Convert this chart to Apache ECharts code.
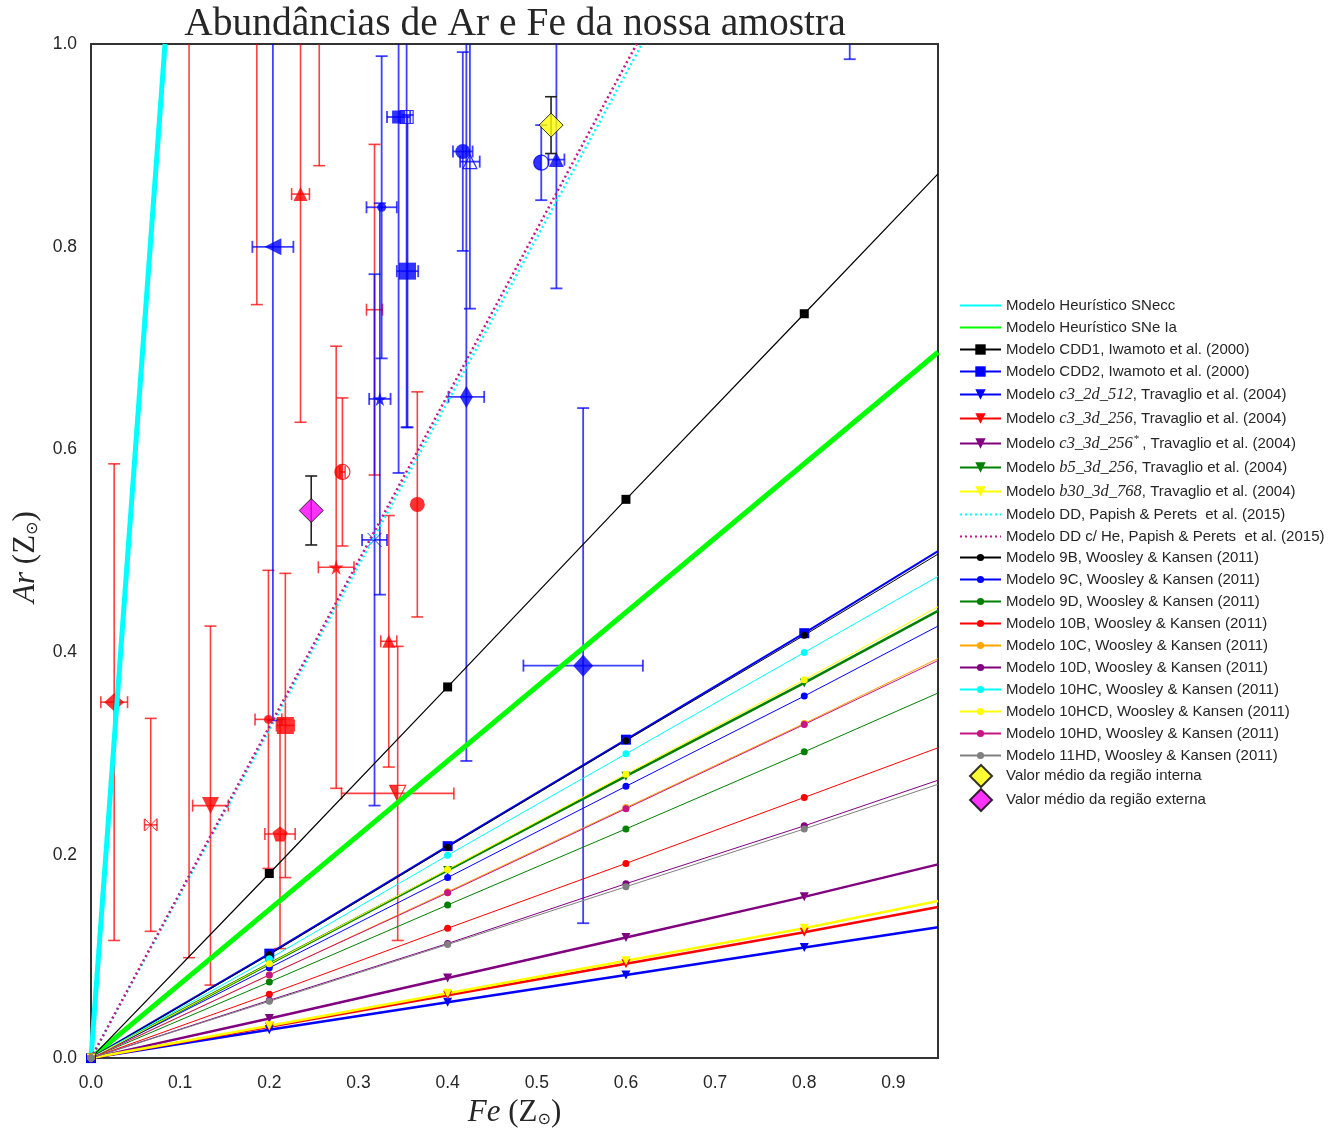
<!DOCTYPE html>
<html><head><meta charset="utf-8">
<script src="https://cdn.jsdelivr.net/npm/echarts@6/dist/echarts.min.js"></script>
<style>html,body{margin:0;padding:0;background:#fff;overflow:hidden}#c{width:1339px;height:1133px}</style>
</head><body><div id="c"></div>
<script>
// ---------------- DATA ----------------
const feGrid = [0, 0.2, 0.4, 0.6, 0.8, 0.95];       // last value = right edge of plot
const cdd1   = [0, 0.182, 0.366, 0.551, 0.734, 0.872];
const cdd2   = [0, 0.103, 0.209, 0.314, 0.419, 0.500];
const c3_2d  = [0, 0.028, 0.055, 0.082, 0.109, 0.129];
const c3_3d  = [0, 0.031, 0.062, 0.093, 0.124, 0.149];
const c3_3ds = [0, 0.039, 0.079, 0.119, 0.159, 0.191];
const b5_3d  = [0, 0.093, 0.185, 0.278, 0.370, 0.441];
const b30_3d = [0, 0.032, 0.064, 0.096, 0.128, 0.155];
const w9B    = [0, 0.102, 0.208, 0.313, 0.417, 0.497];
const w9C    = [0, 0.089, 0.178, 0.268, 0.357, 0.426];
const w9D    = [0, 0.075, 0.151, 0.226, 0.302, 0.360];
const w10B   = [0, 0.063, 0.128, 0.192, 0.257, 0.306];
const w10C   = [0, 0.082, 0.164, 0.247, 0.330, 0.394];
const w10D   = [0, 0.057, 0.113, 0.172, 0.229, 0.274];
const w10HC  = [0, 0.098, 0.200, 0.300, 0.400, 0.475];
const w10HCD = [0, 0.093, 0.186, 0.280, 0.373, 0.445];
const w10HD  = [0, 0.082, 0.163, 0.246, 0.329, 0.392];
const w11HD  = [0, 0.056, 0.112, 0.169, 0.226, 0.270];
// heuristic / DD straight lines: [Fe, Ar]
const snecc  = [[0, 0], [0.083, 1.0]];
const sneIa  = [[0, 0], [0.95, 0.696]];
const ddLine = [[0, 0], [0.618, 1.0]];
const ddHe   = [[0, 0], [0.612, 1.0]];
// sample points (red / blue) : Fe, Ar, Fe error, Ar error
const redFe    = [0.026, 0.067, 0.110, 0.134, 0.186, 0.199, 0.218, 0.212, 0.235, 0.256, 0.275, 0.282, 0.318, 0.334, 0.344, 0.366];
const redAr    = [0.351, 0.230, 1.100, 0.249, 1.050, 0.334, 0.328, 0.221, 0.852, 1.050, 0.484, 0.578, 0.738, 0.411, 0.261, 0.546];
const redFeErr = [0.015, 0.007, 0.000, 0.020, 0.000, 0.015, 0.010, 0.017, 0.010, 0.000, 0.020, 0.003, 0.009, 0.009, 0.063, 0.000];
const redArErr = [0.235, 0.105, 1.001, 0.177, 0.307, 0.147, 0.150, 0.113, 0.225, 0.170, 0.218, 0.073, 0.163, 0.124, 0.145, 0.111];
const blueFe    = [0.204, 0.326, 0.324, 0.318, 0.345, 0.354, 0.355, 0.417, 0.425, 0.421, 0.505, 0.522, 0.552, 0.851];
const blueAr    = [0.800, 0.839, 0.650, 0.511, 0.928, 0.928, 0.776, 0.894, 0.884, 0.652, 0.883, 0.886, 0.387, 1.050];
const blueFeErr = [0.023, 0.017, 0.012, 0.014, 0.013, 0.000, 0.012, 0.011, 0.011, 0.020, 0.000, 0.009, 0.067, 0.000];
const blueArErr = [0.467, 0.149, 0.193, 0.262, 0.351, 0.306, 0.154, 0.098, 0.145, 0.359, 0.037, 0.127, 0.254, 0.065];
// mean values: interna, externa
const meanFe    = [0.516, 0.247];
const meanAr    = [0.920, 0.540];
const meanArErr = [0.028, 0.034];

// ---------------- STYLE ----------------
const STAR = 'path://M50,0 L61,35 L98,35 L68,57 L79,91 L50,70 L21,91 L32,57 L2,35 L39,35 Z';
const PENT = 'path://M50,0 L98,35 L79,91 L21,91 L2,35 Z';
const XMRK = 'path://M0,0 L100,100 M100,0 L0,100';
const HALFC = 'path://M50,0 A50,50 0 0 0 50,100 Z';
const HALFT = 'path://M0,0 L50,0 L50,100 Z';
// per-point marker styles: [symbol, size, rotate, hollow]
const redStyle = [
  ['diamond', [20, 18], 0, false], [XMRK, 12, 0, 'x'], ['none', 0, 0, false], ['triangle', 17, 180, false],
  ['none', 0, 0, false], ['circle', 9, 0, false], ['rect', 17, 0, false], [PENT, 15, 0, false],
  ['triangle', 14, 0, false], ['none', 0, 0, false], [STAR, 15, 0, false], ['circle', 15, 0, true],
  ['none', 0, 0, false], ['triangle', 13, 0, false], ['triangle', 16, 180, true], ['circle', 15, 0, false]
];
const redHalf = [[11, HALFC, 15], [14, HALFT, 16]];
const blueStyle = [
  ['triangle', 17, 90, false], ['circle', 9, 0, false], [STAR, 14, 0, false], [XMRK, 14, 0, 'x'],
  ['rect', 13, 0, false], ['rect', 13, 0, true], ['rect', 17, 0, false], ['circle', 15, 0, false],
  ['triangle', 14, 0, true], ['diamond', [13, 22], 0, false], ['circle', 15, 0, true], ['triangle', 15, 0, false],
  ['diamond', [20, 22], 0, false], ['none', 0, 0, false]
];
const blueHalf = [[10, HALFC, 15]];

function markerData(fe, ar, styles, color) {
  return fe.map((x, i) => {
    const s = styles[i];
    const o = { value: [x, ar[i]], symbol: s[0], symbolSize: s[1], symbolRotate: s[2] };
    if (s[3] === 'x') o.itemStyle = { color: 'none', borderColor: color, borderWidth: 1 };
    else if (s[3]) o.itemStyle = { color: 'rgba(0,0,0,0)', borderColor: color, borderWidth: 1.2 };
    else o.itemStyle = { color: color };
    return o;
  });
}
function halfData(fe, ar, halves, color) {
  return halves.map(h => ({
    value: [fe[h[0]], ar[h[0]]], symbol: h[1], symbolSize: [h[2] / 2, h[2]],
    symbolOffset: [-h[2] / 4, 0], itemStyle: { color: color }
  }));
}
function errData(fe, ar, dfe, dar) { return fe.map((x, i) => [x, ar[i], dfe[i], dar[i]]); }
function errRender(color, lw, cap) {
  return function (params, api) {
    const x = api.value(0), y = api.value(1), dx = api.value(2), dy = api.value(3);
    const st = { stroke: color, lineWidth: lw, fill: null };
    const ch = [];
    if (dy > 0) {
      const a = api.coord([x, y - dy]), b = api.coord([x, y + dy]);
      ch.push({ type: 'line', shape: { x1: a[0], y1: a[1], x2: b[0], y2: b[1] }, style: st });
      ch.push({ type: 'line', shape: { x1: a[0] - cap, y1: a[1], x2: a[0] + cap, y2: a[1] }, style: st });
      ch.push({ type: 'line', shape: { x1: b[0] - cap, y1: b[1], x2: b[0] + cap, y2: b[1] }, style: st });
    }
    if (dx > 0) {
      const a = api.coord([x - dx, y]), b = api.coord([x + dx, y]);
      ch.push({ type: 'line', shape: { x1: a[0], y1: a[1], x2: b[0], y2: b[1] }, style: st });
      ch.push({ type: 'line', shape: { x1: a[0], y1: a[1] - cap, x2: a[0], y2: a[1] + cap }, style: st });
      ch.push({ type: 'line', shape: { x1: b[0], y1: b[1] - cap, x2: b[0], y2: b[1] + cap }, style: st });
    }
    return { type: 'group', children: ch };
  };
}
function modelLine(name, vals, color, width, symbol, size, rotate) {
  return {
    name: name, type: 'line', z: 5, clip: true, animation: false,
    data: feGrid.map((x, i) => i === feGrid.length - 1 ? { value: [x, vals[i]], symbol: 'none' } : [x, vals[i]]),
    symbol: symbol, symbolSize: size, symbolRotate: rotate || 0, showAllSymbol: true,
    itemStyle: { color: color }, lineStyle: { color: color, width: width }
  };
}
function straight(name, pts, color, width, type) {
  return {
    name: name, type: 'line', z: 5, clip: true, animation: false, data: pts,
    symbol: 'circle', showSymbol: false,
    itemStyle: { color: 'rgba(0,0,0,0)', borderWidth: 0 },
    lineStyle: { color: color, width: width, type: type || 'solid' }
  };
}

const RED = '#ff0000', BLUE = '#0000ff';
const series = [
  straight('Modelo Heurístico SNecc', snecc, '#00ffff', 5),
  straight('Modelo Heurístico SNe Ia', sneIa, '#00ff00', 5),
  modelLine('Modelo CDD1, Iwamoto et al. (2000)', cdd1, '#000000', 1.2, 'rect', 9),
  modelLine('Modelo CDD2, Iwamoto et al. (2000)', cdd2, '#0000ff', 2, 'rect', 10),
  modelLine('Modelo c3_2d_512, Travaglio et al. (2004)', c3_2d, '#0000ff', 2.5, 'triangle', 9, 180),
  modelLine('Modelo c3_3d_256, Travaglio et al. (2004)', c3_3d, '#ff0000', 2.5, 'triangle', 9, 180),
  modelLine('Modelo c3_3d_256*, Travaglio et al. (2004)', c3_3ds, '#800080', 2.5, 'triangle', 9, 180),
  modelLine('Modelo b5_3d_256, Travaglio et al. (2004)', b5_3d, '#008000', 2.5, 'triangle', 9, 180),
  modelLine('Modelo b30_3d_768, Travaglio et al. (2004)', b30_3d, '#ffff00', 2.5, 'triangle', 9, 180),
  straight('Modelo DD, Papish & Perets  et al. (2015)', ddLine, '#00ffff', 2.5, [2, 3]),
  straight('Modelo DD c/ He, Papish & Perets  et al. (2015)', ddHe, '#c71585', 2.5, [2, 3]),
  modelLine('Modelo 9B, Woosley & Kansen (2011)', w9B, '#000000', 1, 'circle', 7),
  modelLine('Modelo 9C, Woosley & Kansen (2011)', w9C, '#0000ff', 1, 'circle', 7),
  modelLine('Modelo 9D, Woosley & Kansen (2011)', w9D, '#008000', 1, 'circle', 7),
  modelLine('Modelo 10B, Woosley & Kansen (2011)', w10B, '#ff0000', 1, 'circle', 7),
  modelLine('Modelo 10C, Woosley & Kansen (2011)', w10C, '#ffa500', 1, 'circle', 7),
  modelLine('Modelo 10D, Woosley & Kansen (2011)', w10D, '#800080', 1, 'circle', 7),
  modelLine('Modelo 10HC, Woosley & Kansen (2011)', w10HC, '#00ffff', 1, 'circle', 7),
  modelLine('Modelo 10HCD, Woosley & Kansen (2011)', w10HCD, '#ffff00', 1, 'circle', 7),
  modelLine('Modelo 10HD, Woosley & Kansen (2011)', w10HD, '#c71585', 1, 'circle', 7),
  modelLine('Modelo 11HD, Woosley & Kansen (2011)', w11HD, '#808080', 1, 'circle', 7),
  { name: 'Valor médio da região interna', type: 'scatter', z: 7, symbol: 'diamond', symbolSize: 24,
    data: [[meanFe[0], meanAr[0]]], itemStyle: { color: '#ffff00', borderColor: '#000', borderWidth: 1 } },
  { name: 'Valor médio da região externa', type: 'scatter', z: 7, symbol: 'diamond', symbolSize: 24,
    data: [[meanFe[1], meanAr[1]]], itemStyle: { color: '#ff00ff', borderColor: '#000', borderWidth: 1 } },
  { name: 'errRed', type: 'custom', z: 2, clip: true, renderItem: errRender('rgba(255,0,0,0.75)', 1.6, 6),
    data: errData(redFe, redAr, redFeErr, redArErr), encode: { x: 0, y: 1 } },
  { name: 'errBlue', type: 'custom', z: 2, clip: true, renderItem: errRender('rgba(0,0,255,0.75)', 1.8, 6),
    data: errData(blueFe, blueAr, blueFeErr, blueArErr), encode: { x: 0, y: 1 } },
  { name: 'errMean', type: 'custom', z: 6, clip: true, renderItem: errRender('#222', 1.6, 6),
    data: errData(meanFe, meanAr, [0, 0], meanArErr), encode: { x: 0, y: 1 } },
  { name: 'ptRed', type: 'scatter', z: 3, data: markerData(redFe, redAr, redStyle, RED) },
  { name: 'ptBlue', type: 'scatter', z: 3, data: markerData(blueFe, blueAr, blueStyle, BLUE) },
  { name: 'halfRed', type: 'scatter', z: 3, data: halfData(redFe, redAr, redHalf, RED) },
  { name: 'halfBlue', type: 'scatter', z: 3, data: halfData(blueFe, blueAr, blueHalf, BLUE) }
];
const names = series.map(s => s.name);

function legendFmt(name) {
  const m = name.match(/^Modelo ((?:c3|b5|b30)_\w+?)(\*?), (.*)$/);
  if (m) {
    return '{n|Modelo }{m|' + m[1] + '}' + (m[2] ? '{s|*}' : '') + '{n|, ' + m[3] + '}';
  }
  return '{n|' + name + '}';
}
const legendText = {
  color: '#262626', fontSize: 15, fontFamily: 'Liberation Sans',
  rich: {
    n: { fontFamily: 'Liberation Sans', fontSize: 15, color: '#262626' },
    m: { fontFamily: 'Liberation Serif', fontStyle: 'italic', fontSize: 16.5, color: '#262626' },
    s: { fontFamily: 'Liberation Serif', fontSize: 11, color: '#262626', padding: [0, 3, 8, 1] }
  }
};
const legendBase = { orient: 'vertical', padding: 0, selectedMode: false, formatter: legendFmt, textStyle: legendText };

const axisNameRich = {
  it: { fontFamily: 'Liberation Serif', fontStyle: 'italic', fontSize: 31, color: '#262626' },
  r: { fontFamily: 'Liberation Serif', fontSize: 31, color: '#262626' },
  sub: { fontFamily: 'DejaVu Sans', fontSize: 16, color: '#262626', padding: [14, 0, 0, 0] }
};

const chart = echarts.init(document.getElementById('c'), null, { renderer: 'canvas', width: 1339, height: 1133 });
chart.setOption({
  backgroundColor: '#ffffff',
  animation: false,
  title: {
    text: 'Abundâncias de Ar e Fe da nossa amostra', left: 510, textAlign: 'center', top: 0,
    textStyle: { fontFamily: 'Liberation Serif', fontWeight: 'normal', fontSize: 39.5, color: '#262626' }
  },
  grid: { left: 91, top: 44, width: 847, height: 1024, show: true, borderColor: '#333333', borderWidth: 2, backgroundColor: 'transparent' },
  legend: [
    Object.assign({}, legendBase, { data: names.slice(0, 11), left: 959, top: 298, itemWidth: 41, itemHeight: 13, itemGap: 7 }),
    Object.assign({}, legendBase, { data: names.slice(11, 21), left: 959, top: 550, itemWidth: 41, itemHeight: 9, itemGap: 7 }),
    Object.assign({}, legendBase, { data: names.slice(21, 23), left: 969, top: 764, itemWidth: 22, itemHeight: 22, itemGap: 0,
      textStyle: Object.assign({}, legendText, { padding: [0, 0, 0, 9] }) })
  ],
  xAxis: {
    type: 'value', min: 0, max: 0.95, interval: 0.1,
    axisLine: { show: false }, axisTick: { show: false }, splitLine: { show: false },
    axisLabel: { fontSize: 17.5, color: '#262626', fontFamily: 'Liberation Sans', margin: 16,
      formatter: v => (Math.abs(v - 0.95) < 1e-6 ? '' : v.toFixed(1)) },
    name: '{it|Fe}{r| (Z}{sub|⊙}{r|)}', nameLocation: 'middle', nameGap: 37,
    nameTextStyle: { rich: axisNameRich }
  },
  yAxis: {
    type: 'value', min: 0, max: 1.0, interval: 0.2,
    axisLine: { show: false }, axisTick: { show: false }, splitLine: { show: false },
    axisLabel: { fontSize: 17.5, color: '#262626', fontFamily: 'Liberation Sans', margin: 14,
      formatter: v => v.toFixed(1) },
    name: '{it|Ar}{r| (Z}{sub|⊙}{r|)}', nameLocation: 'middle', nameGap: 50, nameRotate: 90,
    nameTextStyle: { rich: axisNameRich, padding: [0, 12, 0, 0] }
  },
  series: series
});
</script></body></html>
